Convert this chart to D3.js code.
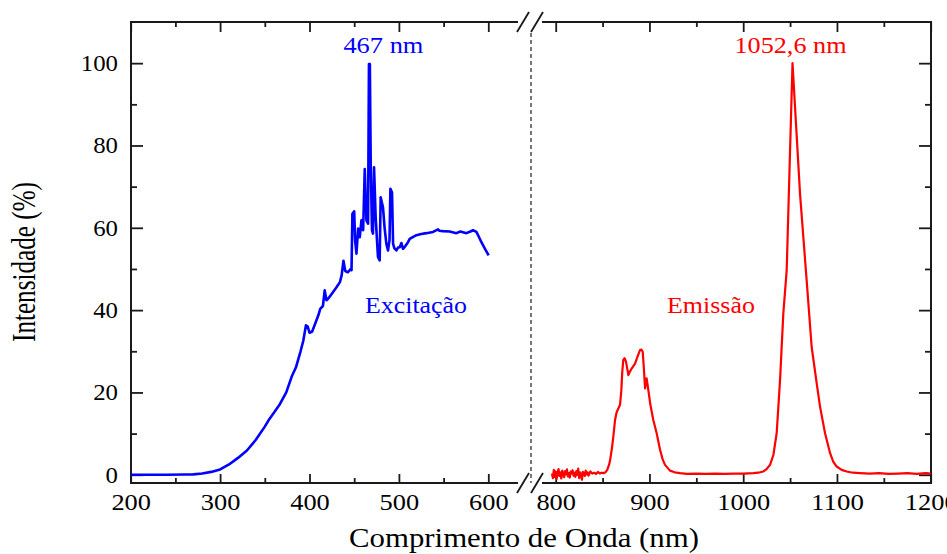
<!DOCTYPE html>
<html>
<head>
<meta charset="utf-8">
<script src="https://cdn.jsdelivr.net/npm/d3@7/dist/d3.min.js"></script>
<style>
  html, body { margin: 0; padding: 0; background: #fff; }
  svg { display: block; }
  text { font-family: "Liberation Serif", "Times New Roman", Times, serif; }
</style>
</head>
<body>
<svg id="chart" width="947" height="554"></svg>
<script>
// Excitation spectrum, [wavelength nm, intensity %]
const excitacao = [
  [200,0],[220,0],[240,0],[260,0.05],[270,0.1],[280,0.3],[290,0.7],[300,1.3],[310,2.5],
  [320,4.1],[330,5.9],[340,8.5],[350,11.7],[355,13.5],[360,15.0],[367,17.2],[374,20.0],
  [380,23.8],[385,26.2],[390,30.0],[393,32.5],[396,36.3],[398,36.0],[400,34.5],[403,34.8],
  [406,36.5],[410,38.8],[412,40.3],[415,41.0],[417,44.8],[419,42.4],[421,42.8],[425,44.0],
  [430,45.5],[434,46.8],[436,48.5],[438,52.0],[440,49.5],[443,49.2],[446,50.0],[447,49.7],
  [448,63.4],[450,64.0],[451,57.0],[452.5,53.7],[454.4,59.8],[456.2,57.7],[458.1,61.8],
  [460,59.4],[461.8,74.3],[463.7,61.8],[465.5,61.0],[466.5,99.8],[467.5,99.8],[468.5,75.0],
  [469.9,59.4],[471,58.6],[472.2,74.7],[474,62.6],[476.6,52.9],[478.5,52.1],[479.6,67.4],
  [482.2,65.0],[484,60.0],[486,56.1],[487.8,54.5],[489.5,57.0],[490.5,69.5],[492.3,68.6],
  [493.5,56.1],[495,55.0],[497.2,54.5],[499,55.2],[500.9,55.3],[502.8,56.3],[504.6,54.9],
  [507,55.5],[510.2,56.5],[512.1,57.3],[516,57.8],[519.6,58.2],[525,58.5],[530.8,58.7],
  [538.2,59.0],[543.8,59.6],[545,59.3],[549.4,59.2],[556.8,59.1],[564.3,58.7],[568.8,59.1],
  [575.5,58.7],[580,59.1],[582.9,59.4],[586.7,59.0],[589,58.0],[592.3,56.5],[596,55.0],
  [600.4,53.3]
];

// Emission spectrum, [wavelength nm, intensity %]
const emissao = [
  [796,0.3],[797,-0.8],[798,1.2],[799,-0.5],[800,0.8],[801,-1.0],[802,0.5],[803,1.4],
  [804,-0.3],[805,0.6],[806,-0.9],[807,1.0],[808,0.2],[809,-0.6],[810,0.9],[811,0.1],
  [812,1.3],[813,-0.4],[814,0.4],[815,-0.7],[816,0.8],[817,0.3],[818,1.1],[819,-0.2],
  [820,0.5],[821,-0.5],[822,0.9],[823,0.0],[824,1.5],[825,-0.8],[826,0.6],[827,0.2],
  [828,-1.2],[829,0.7],[830,0.4],[831,-0.3],[832,1.0],[833,0.1],[834,0.6],[835,-0.2],
  [837,0.8],[839,0.3],[841,0.5],[843,0.2],[845,0.7],[847,0.3],[849,0.5],[851,0.4],
  [853,0.6],[855,1.2],[857,2.5],[858,3.5],[860,6.5],[861.5,9.3],[863.3,13.3],[865,15.2],
  [868.6,17.0],[870,20.5],[871,25.0],[872.1,27.9],[873.5,28.3],[875,27.5],[877.5,24.2],
  [879,25.0],[881,25.8],[884.6,27.0],[887,28.5],[889.9,30.3],[891.5,30.4],[892.8,29.9],
  [894,26.0],[895.3,21.0],[897,23.4],[898.8,20.6],[901,17.0],[904.1,13.3],[907.7,10.1],
  [911.3,6.1],[914,3.8],[916.6,2.4],[921.9,1.0],[927,0.6],[932.6,0.4],[940,0.2],[950,0.3],
  [960,0.2],[970,0.3],[980,0.2],[990,0.3],[1000,0.3],[1010.8,0.4],[1016,0.5],[1021.5,0.8],
  [1025,1.4],[1028.6,2.4],[1032.2,4.8],[1035.7,10.1],[1039.3,23.0],[1042.8,39.2],
  [1046.4,49.7],[1052.6,100],[1060.6,68.3],[1067.7,47.2],[1073,31.1],[1078.4,22.2],
  [1082,16.5],[1087.3,10.1],[1092.6,5.3],[1096,3.2],[1099.7,2.0],[1105,1.2],[1110.4,0.8],
  [1117,0.5],[1124.6,0.4],[1135,0.3],[1145,0.4],[1155,0.2],[1165,0.3],[1175,0.4],
  [1185,0.2],[1195,0.4],[1200,0.3]
];

// Peak annotations
const picoExc = { nm: 467, valor: 100, rotulo: "467 nm" };
const picoEm  = { nm: 1052.6, valor: 100, rotulo: "1052,6 nm" };

// Tick values
const yMajor = [0, 20, 40, 60, 80, 100];
const yMinor = [10, 30, 50, 70, 90];
const xMajorEsq = [200, 300, 400, 500, 600];
const xMinorEsq = [250, 350, 450, 550];
const xMajorDir = [800, 900, 1000, 1100, 1200];
const xMinorDir = [850, 950, 1050, 1150];

const svg = d3.select("#chart");
const frame = { left: 131, right: 931, top: 22, bottom: 483 };
const breakX = 531;
const axisColor = "#1a1a1a";

const y = d3.scaleLinear().domain([-2, 110]).range([frame.bottom, frame.top]);
const xEsq = d3.scaleLinear().domain([200, 600]).range([130.7, 488.3]);
const xDir = d3.scaleLinear().domain([800, 1200]).range([555.7, 930.7]);

// stretch glyphs slightly to fit the wider serif labels
function fitText(sel, perChar) {
  sel.each(function () {
    const t = d3.select(this);
    const n = t.text().length;
    if (n) t.attr("textLength", n * perChar).attr("lengthAdjust", "spacingAndGlyphs");
  });
}

function styleAxis(g, fontSize) {
  g.select(".domain").remove();
  g.selectAll(".tick line").attr("stroke", axisColor).attr("stroke-width", 1.8);
  g.selectAll(".tick text").attr("fill", "#000").style("font-size", fontSize + "px");
}

// Y axes (left with labels, right mirrored)
const gyL = svg.append("g").attr("transform", `translate(${frame.left},0)`)
  .call(d3.axisLeft(y).tickValues(yMajor).tickSize(-12).tickPadding(13));
styleAxis(gyL, 23);
fitText(gyL.selectAll(".tick text"), 12.4);
svg.append("g").attr("transform", `translate(${frame.left},0)`)
  .call(d3.axisLeft(y).tickValues(yMinor).tickSize(-6).tickFormat(""))
  .call(g => styleAxis(g, 23));
svg.append("g").attr("transform", `translate(${frame.right},0)`)
  .call(d3.axisRight(y).tickValues(yMajor).tickSize(-12).tickFormat(""))
  .call(g => styleAxis(g, 23));
svg.append("g").attr("transform", `translate(${frame.right},0)`)
  .call(d3.axisRight(y).tickValues(yMinor).tickSize(-6).tickFormat(""))
  .call(g => styleAxis(g, 23));

// X axes, two segments on the bottom and top
[[xEsq, xMajorEsq, xMinorEsq], [xDir, xMajorDir, xMinorDir]].forEach(([sc, maj, min]) => {
  const gb = svg.append("g").attr("transform", `translate(0,${frame.bottom})`)
    .call(d3.axisBottom(sc).tickValues(maj).tickSize(-9).tickPadding(11).tickFormat(d3.format("d")));
  styleAxis(gb, 23);
  fitText(gb.selectAll(".tick text"), 13.2);
  svg.append("g").attr("transform", `translate(0,${frame.bottom})`)
    .call(d3.axisBottom(sc).tickValues(min).tickSize(-5).tickFormat(""))
    .call(g => styleAxis(g, 23));
  svg.append("g").attr("transform", `translate(0,${frame.top})`)
    .call(d3.axisTop(sc).tickValues(maj).tickSize(-10).tickFormat(""))
    .call(g => styleAxis(g, 23));
  svg.append("g").attr("transform", `translate(0,${frame.top})`)
    .call(d3.axisTop(sc).tickValues(min).tickSize(-5).tickFormat(""))
    .call(g => styleAxis(g, 23));
});

// Frame lines with a gap at the axis break
const fr = svg.append("g").attr("stroke", axisColor).attr("stroke-width", 2).attr("fill", "none");
fr.append("line").attr("x1", frame.left).attr("x2", frame.left).attr("y1", frame.top - 1).attr("y2", frame.bottom + 1);
fr.append("line").attr("x1", frame.right).attr("x2", frame.right).attr("y1", frame.top - 1).attr("y2", frame.bottom + 1);
[frame.top, frame.bottom].forEach(yy => {
  fr.append("line").attr("x1", frame.left).attr("x2", breakX - 13).attr("y1", yy).attr("y2", yy);
  fr.append("line").attr("x1", breakX + 11).attr("x2", frame.right).attr("y1", yy).attr("y2", yy);
  // break marks
  [breakX - 8, breakX + 6].forEach(cx => {
    fr.append("line").attr("x1", cx - 6).attr("y1", yy + 10).attr("x2", cx + 6).attr("y2", yy - 10)
      .attr("stroke-width", 1.8);
  });
});

// Dashed separator between the two ranges
svg.append("line")
  .attr("x1", breakX).attr("x2", breakX)
  .attr("y1", frame.top + 11).attr("y2", frame.bottom)
  .attr("stroke", "#555").attr("stroke-width", 1.6).attr("stroke-dasharray", "4,3");

// Spectra
const lineEsq = d3.line().x(d => xEsq(d[0])).y(d => y(d[1]));
const lineDir = d3.line().x(d => xDir(d[0])).y(d => y(d[1]));

svg.append("path").datum(excitacao).attr("d", lineEsq)
  .attr("fill", "none").attr("stroke", "#0000ff").attr("stroke-width", 2.6)
  .attr("stroke-linejoin", "round");
svg.append("path").datum(emissao).attr("d", lineDir)
  .attr("fill", "none").attr("stroke", "#ff0000").attr("stroke-width", 2.2)
  .attr("stroke-linejoin", "round");

// Peak labels
svg.append("text").attr("x", xEsq(picoExc.nm) + 14).attr("y", y(picoExc.valor) - 10)
  .attr("text-anchor", "middle").attr("fill", "#0000ff").style("font-size", "24px")
  .attr("textLength", 80).attr("lengthAdjust", "spacingAndGlyphs")
  .text(picoExc.rotulo);
svg.append("text").attr("x", xDir(picoEm.nm) - 2).attr("y", y(picoEm.valor) - 10)
  .attr("text-anchor", "middle").attr("fill", "#ff0000").style("font-size", "24px")
  .attr("textLength", 112).attr("lengthAdjust", "spacingAndGlyphs")
  .text(picoEm.rotulo);

// Series labels
svg.append("text").attr("x", 416).attr("y", 313)
  .attr("text-anchor", "middle").attr("fill", "#0000ff").style("font-size", "23px")
  .attr("textLength", 102).attr("lengthAdjust", "spacingAndGlyphs")
  .text("Excitação");
svg.append("text").attr("x", 711).attr("y", 313)
  .attr("text-anchor", "middle").attr("fill", "#ff0000").style("font-size", "23px")
  .attr("textLength", 88).attr("lengthAdjust", "spacingAndGlyphs")
  .text("Emissão");

// Axis titles
svg.append("text").attr("x", 524).attr("y", 547)
  .attr("text-anchor", "middle").attr("fill", "#000").style("font-size", "28px")
  .attr("textLength", 350).attr("lengthAdjust", "spacingAndGlyphs")
  .text("Comprimento de Onda (nm)");
svg.append("text").attr("transform", "translate(35,262) rotate(-90)")
  .attr("text-anchor", "middle").attr("fill", "#000").style("font-size", "33px")
  .attr("textLength", 160).attr("lengthAdjust", "spacingAndGlyphs")
  .text("Intensidade (%)");
</script>
</body>
</html>
